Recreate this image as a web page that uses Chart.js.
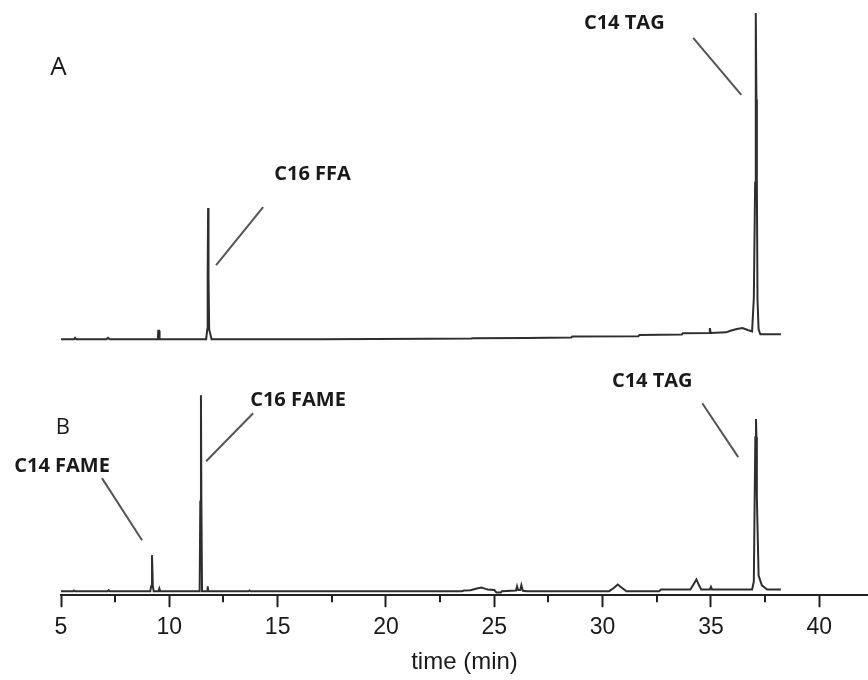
<!DOCTYPE html>
<html>
<head>
<meta charset="utf-8">
<script src="https://cdn.jsdelivr.net/npm/chart.js@4.4.0/dist/chart.umd.min.js"></script>
<style>
  html, body { margin: 0; padding: 0; background: #fff; }
</style>
</head>
<body>
<canvas id="chart" width="868" height="680"></canvas>
<script>
// trace A (top) - retention time in min, signal in arbitrary units (C14 TAG = 100)
var timeA = [5.0, 5.6, 5.65, 5.7, 7.1, 7.17, 7.25, 9.47, 9.49, 9.53, 9.55,
  11.70, 11.75, 11.77, 11.79, 11.81, 11.84, 11.95,
  17.0, 22.0, 23.95, 24.0, 26.5, 28.55, 28.6, 31.65, 31.7, 33.65, 33.7,
  34.93, 34.95, 34.99, 35.7, 35.9, 36.2, 36.45, 36.7, 36.9,
  36.98, 37.04, 37.06, 37.08, 37.10, 37.12, 37.15, 37.2, 37.28, 38.23];
var signalA = [0, 0, 0.4, 0, 0, 0.4, 0, 0, 2.6, 2.6, 0,
  0, 3, 19, 40.2, 19, 3, 0,
  0, 0.1, 0.2, 0.3, 0.4, 0.5, 0.8, 0.9, 1.3, 1.4, 1.8,
  1.9, 3.4, 1.9, 2.1, 2.6, 3.1, 3.4, 2.8, 2.4,
  12.6, 48, 73.5, 100, 73.5, 48, 12, 3, 1.5, 1.5];

// trace B (bottom) - signal in arbitrary units (C16 FAME = 100)
var timeB = [5.0, 5.55, 5.6, 5.65, 7.15, 7.2, 7.25,
  9.12, 9.16, 9.2, 9.24, 9.28, 9.5, 9.54, 9.58,
  11.40, 11.43, 11.46, 11.48, 11.51, 11.74, 11.77, 11.80,
  13.65, 13.7, 13.75, 23.5, 23.6, 23.9, 24.2, 24.4, 24.6, 24.7, 25.0, 25.1, 25.3, 25.35,
  26.0, 26.05, 26.1, 26.2, 26.25, 26.32, 26.5,
  30.3, 30.5, 30.7, 30.9, 31.1, 32.6, 32.7,
  34.05, 34.2, 34.33, 34.45, 34.55, 34.95, 35.0, 35.05,
  36.9, 36.98, 37.02, 37.05, 37.08, 37.10, 37.12, 37.2, 37.35, 37.6, 38.23];
var signalB = [0, 0, 0.4, 0, 0, 0.5, 0,
  0, 2.5, 18.4, 2.5, 0, 0, 1.4, 0,
  0, 45.7, 100, 45.7, 0, 0, 2.5, 0,
  0, 0.4, 0, 0, 0.3, 0.5, 1.4, 1.9, 1.2, 0.9, 0.6, -0.6, -0.6, 0,
  0.3, 2.5, 0.6, 0.6, 3.1, 0.2, 0,
  0, 1.5, 3.4, 1.6, 0, 0, 0.9,
  0.9, 3.5, 6.0, 3.0, 0.9, 0.9, 2.2, 0.9,
  0.9, 5, 48, 78.6, 87.8, 78.6, 48, 8, 3, 0.9, 0.9];

var xTicks = [5, 10, 15, 20, 25, 30, 35, 40];
var xMinorTicks = [7.5, 12.5, 17.5, 22.5, 27.5, 32.5, 37.5];
var panelNames = ['A', 'B'];
var peakNames = ['C16 FFA', 'C14 TAG', 'C16 FAME', 'C14 FAME', 'C14 TAG'];

// where the labels sit, in data units of each panel
var notes = [
  { text: panelNames[0], axis: 'yA', x: 4.88, y: 83.2, font: '400 26px "Open Sans"' },
  { text: panelNames[1], axis: 'yB', x: 5.09, y: 83.2, font: '400 22px "Open Sans"' },
  { text: peakNames[0], axis: 'yA', x: 16.61, y: 50.7, font: '700 20px "Open Sans"' },
  { text: peakNames[1], axis: 'yA', x: 31.0, y: 96.8, font: '700 20px "Open Sans"' },
  { text: peakNames[2], axis: 'yB', x: 15.94, y: 97.2, font: '700 20px "Open Sans"' },
  { text: peakNames[3], axis: 'yB', x: 5.05, y: 63.6, font: '700 20px "Open Sans"' },
  { text: peakNames[4], axis: 'yB', x: 32.29, y: 106.9, font: '700 20px "Open Sans"' }
];
var leaders = [
  { axis: 'yA', x1: 14.33, y1: 40.5, x2: 12.16, y2: 22.7 },
  { axis: 'yA', x1: 34.18, y1: 92.4, x2: 36.40, y2: 74.9 },
  { axis: 'yB', x1: 13.87, y1: 90.8, x2: 11.70, y2: 66.3 },
  { axis: 'yB', x1: 6.89, y1: 57.7, x2: 8.74, y2: 26.0 },
  { axis: 'yB', x1: 34.60, y1: 95.9, x2: 36.26, y2: 68.4 }
];

function toPoints(t, s) {
  return t.map(function (v, i) { return { x: v, y: s[i] }; });
}

var annotate = {
  id: 'annotate',
  afterDraw: function (chart) {
    var ctx = chart.ctx;
    var x = chart.scales.x;
    var bottom = chart.chartArea.bottom;
    ctx.save();
    // minor ticks on the time axis
    ctx.strokeStyle = '#222';
    ctx.lineWidth = 2;
    xMinorTicks.forEach(function (v) {
      var px = Math.round(x.getPixelForValue(v));
      ctx.beginPath();
      ctx.moveTo(px, bottom);
      ctx.lineTo(px, bottom + 7);
      ctx.stroke();
    });
    // leader lines
    ctx.strokeStyle = '#555';
    ctx.lineWidth = 2;
    leaders.forEach(function (l) {
      var y = chart.scales[l.axis];
      ctx.beginPath();
      ctx.moveTo(x.getPixelForValue(l.x1), y.getPixelForValue(l.y1));
      ctx.lineTo(x.getPixelForValue(l.x2), y.getPixelForValue(l.y2));
      ctx.stroke();
    });
    // labels
    ctx.fillStyle = '#1a1a1a';
    ctx.textAlign = 'center';
    ctx.textBaseline = 'middle';
    notes.forEach(function (n) {
      var y = chart.scales[n.axis];
      ctx.font = n.font;
      ctx.fillText(n.text, x.getPixelForValue(n.x), y.getPixelForValue(n.y));
    });
    ctx.restore();
  }
};

new Chart(document.getElementById('chart'), {
  type: 'line',
  data: {
    datasets: [
      { label: 'A', data: toPoints(timeA, signalA), yAxisID: 'yA' },
      { label: 'B', data: toPoints(timeB, signalB), yAxisID: 'yB' }
    ]
  },
  options: {
    responsive: false,
    animation: false,
    layout: { padding: { left: 61, right: 0, top: 0, bottom: 0 } },
    elements: {
      line: { borderColor: '#2e2e2e', borderWidth: 2, tension: 0, fill: false },
      point: { radius: 0 }
    },
    plugins: { legend: { display: false }, tooltip: { enabled: false } },
    scales: {
      x: {
        type: 'linear',
        min: 5,
        max: 42.25,
        afterBuildTicks: function (scale) {
          scale.ticks = xTicks.map(function (v) { return { value: v }; });
        },
        grid: { drawOnChartArea: false, drawTicks: true, tickLength: 12, tickWidth: 2, tickColor: '#222' },
        border: { display: true, color: '#222', width: 2 },
        ticks: {
          color: '#1a1a1a',
          padding: 9,
          maxRotation: 0,
          font: { family: '"Liberation Sans", Arial, sans-serif', size: 23, lineHeight: 1 }
        },
        title: {
          display: true,
          text: 'time (min)',
          color: '#1a1a1a',
          padding: { top: 0, bottom: 3 },
          font: { family: '"Liberation Sans", Arial, sans-serif', size: 24, lineHeight: 1.2 }
        }
      },
      yA: { display: false, min: -78.5, max: 104 },
      yB: { display: false, min: -2.04, max: 301.6 }
    }
  },
  plugins: [annotate]
});
</script>
</body>
</html>
